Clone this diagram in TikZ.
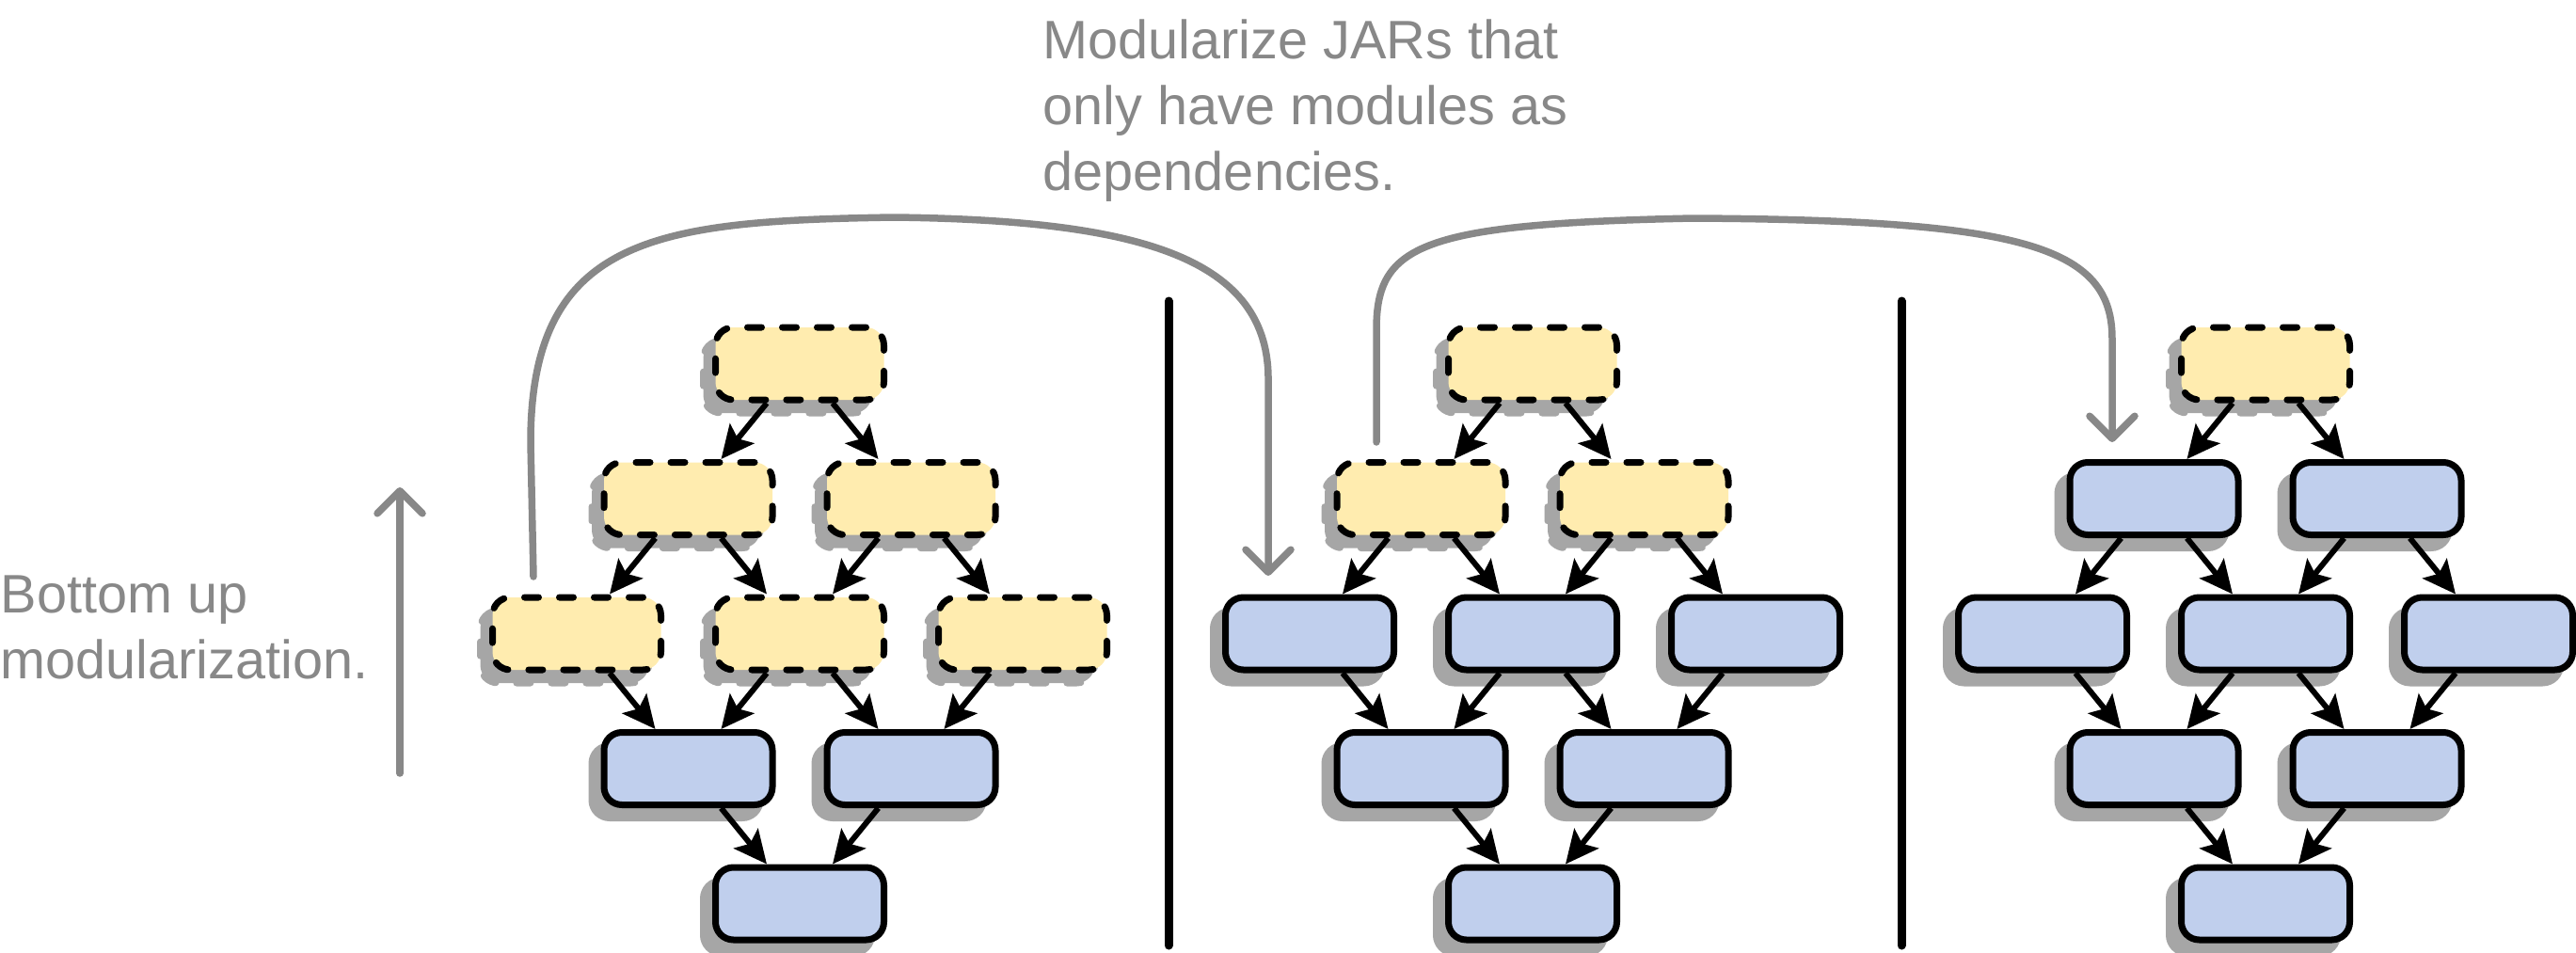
\documentclass[tikz,border=0pt]{standalone}
\usepackage{fontspec}
\setmainfont{Liberation Sans}
\usetikzlibrary{positioning,arrows.meta,shadows}

\definecolor{jaryellow}{HTML}{FFECAF}
\definecolor{modblue}{HTML}{C0CFED}
\definecolor{shadowgray}{HTML}{A6A6A6}
\definecolor{notegray}{HTML}{888888}

\begin{document}
\begin{tikzpicture}[font=\fontsize{16.4}{19.9}\selectfont,node distance=5.95mm,
  >={Stealth[length=3.5mm,width=3.3mm,inset=0.7mm]},
  box/.style={rectangle,rounded corners=1.9mm,minimum width=17.9mm,minimum height=7.7mm,inner sep=0pt,line width=0.7mm,draw=black,
    drop shadow={shadow xshift=-1.3mm,shadow yshift=-1.4mm,fill=shadowgray,draw=shadowgray,opacity=1}},
  jar/.style={box,fill=jaryellow,dash pattern=on 1.5mm off 2.2mm,line cap=round},
  mod/.style={box,fill=modblue},
  dep/.style={->,line width=0.6mm,black},
  flow/.style={draw=notegray,line width=0.75mm,line cap=round,-{Straight Barb[round,length=2.4mm,width=4.8mm]}},
  sep/.style={line width=0.9mm,line cap=round},
  note/.style={text=notegray,align=left,inner sep=0pt}]
\useasboundingbox (0,0) rectangle (27.38,-10.13);

% step 1: only the two bottom levels are modules
\node[jar](a1) at (8.50,-3.865){};
\node[jar,below=of a1,xshift=-11.85mm](a2l){};
\node[jar,below=of a1,xshift=11.85mm](a2r){};
\node[jar,below=of a2l,xshift=-11.85mm](a3l){};
\node[jar,below=of a2l,xshift=11.85mm](a3m){};
\node[jar,below=of a2r,xshift=11.85mm](a3r){};
\node[mod,below=of a3l,xshift=11.85mm](a4l){};
\node[mod,below=of a3r,xshift=-11.85mm](a4r){};
\node[mod,below=of a4l,xshift=11.85mm](a5){};

% step 2
\node[jar](b1) at (16.29,-3.865){};
\node[jar,below=of b1,xshift=-11.85mm](b2l){};
\node[jar,below=of b1,xshift=11.85mm](b2r){};
\node[mod,below=of b2l,xshift=-11.85mm](b3l){};
\node[mod,below=of b2l,xshift=11.85mm](b3m){};
\node[mod,below=of b2r,xshift=11.85mm](b3r){};
\node[mod,below=of b3l,xshift=11.85mm](b4l){};
\node[mod,below=of b3r,xshift=-11.85mm](b4r){};
\node[mod,below=of b4l,xshift=11.85mm](b5){};

% step 3
\node[jar](c1) at (24.08,-3.865){};
\node[mod,below=of c1,xshift=-11.85mm](c2l){};
\node[mod,below=of c1,xshift=11.85mm](c2r){};
\node[mod,below=of c2l,xshift=-11.85mm](c3l){};
\node[mod,below=of c2l,xshift=11.85mm](c3m){};
\node[mod,below=of c2r,xshift=11.85mm](c3r){};
\node[mod,below=of c3l,xshift=11.85mm](c4l){};
\node[mod,below=of c3r,xshift=-11.85mm](c4r){};
\node[mod,below=of c4l,xshift=11.85mm](c5){};

\draw[dep]([xshift=-3.5mm]a1.south)--([xshift=3.5mm]a2l.north);\draw[dep]([xshift=3.5mm]a1.south)--([xshift=-3.5mm]a2r.north);
\draw[dep]([xshift=-3.5mm]a2l.south)--([xshift=3.5mm]a3l.north);\draw[dep]([xshift=3.5mm]a2l.south)--([xshift=-3.5mm]a3m.north);
\draw[dep]([xshift=-3.5mm]a2r.south)--([xshift=3.5mm]a3m.north);\draw[dep]([xshift=3.5mm]a2r.south)--([xshift=-3.5mm]a3r.north);
\draw[dep]([xshift=3.5mm]a3l.south)--([xshift=-3.5mm]a4l.north);\draw[dep]([xshift=-3.5mm]a3m.south)--([xshift=3.5mm]a4l.north);
\draw[dep]([xshift=3.5mm]a3m.south)--([xshift=-3.5mm]a4r.north);\draw[dep]([xshift=-3.5mm]a3r.south)--([xshift=3.5mm]a4r.north);
\draw[dep]([xshift=3.5mm]a4l.south)--([xshift=-3.5mm]a5.north);\draw[dep]([xshift=-3.5mm]a4r.south)--([xshift=3.5mm]a5.north);

\draw[dep]([xshift=-3.5mm]b1.south)--([xshift=3.5mm]b2l.north);\draw[dep]([xshift=3.5mm]b1.south)--([xshift=-3.5mm]b2r.north);
\draw[dep]([xshift=-3.5mm]b2l.south)--([xshift=3.5mm]b3l.north);\draw[dep]([xshift=3.5mm]b2l.south)--([xshift=-3.5mm]b3m.north);
\draw[dep]([xshift=-3.5mm]b2r.south)--([xshift=3.5mm]b3m.north);\draw[dep]([xshift=3.5mm]b2r.south)--([xshift=-3.5mm]b3r.north);
\draw[dep]([xshift=3.5mm]b3l.south)--([xshift=-3.5mm]b4l.north);\draw[dep]([xshift=-3.5mm]b3m.south)--([xshift=3.5mm]b4l.north);
\draw[dep]([xshift=3.5mm]b3m.south)--([xshift=-3.5mm]b4r.north);\draw[dep]([xshift=-3.5mm]b3r.south)--([xshift=3.5mm]b4r.north);
\draw[dep]([xshift=3.5mm]b4l.south)--([xshift=-3.5mm]b5.north);\draw[dep]([xshift=-3.5mm]b4r.south)--([xshift=3.5mm]b5.north);

\draw[dep]([xshift=-3.5mm]c1.south)--([xshift=3.5mm]c2l.north);\draw[dep]([xshift=3.5mm]c1.south)--([xshift=-3.5mm]c2r.north);
\draw[dep]([xshift=-3.5mm]c2l.south)--([xshift=3.5mm]c3l.north);\draw[dep]([xshift=3.5mm]c2l.south)--([xshift=-3.5mm]c3m.north);
\draw[dep]([xshift=-3.5mm]c2r.south)--([xshift=3.5mm]c3m.north);\draw[dep]([xshift=3.5mm]c2r.south)--([xshift=-3.5mm]c3r.north);
\draw[dep]([xshift=3.5mm]c3l.south)--([xshift=-3.5mm]c4l.north);\draw[dep]([xshift=-3.5mm]c3m.south)--([xshift=3.5mm]c4l.north);
\draw[dep]([xshift=3.5mm]c3m.south)--([xshift=-3.5mm]c4r.north);\draw[dep]([xshift=-3.5mm]c3r.south)--([xshift=3.5mm]c4r.north);
\draw[dep]([xshift=3.5mm]c4l.south)--([xshift=-3.5mm]c5.north);\draw[dep]([xshift=-3.5mm]c4r.south)--([xshift=3.5mm]c5.north);

% separators
\coordinate(s1t) at (12.42,-3.20);\coordinate(s1b) at (12.42,-10.05);
\coordinate(s2t) at (20.21,-3.20);\coordinate(s2b) at (20.21,-10.05);
\draw[sep](s1t)--(s1b);\draw[sep](s2t)--(s2b);

% notes and flow arrows
\node[note,anchor=base west](bottomup) at (0,-7.21){Bottom up\\modularization.};
\node[note,anchor=base west](onlymods) at (11.08,-2.02){Modularize JARs that\\only have modules as\\dependencies.};
\coordinate(upfrom) at (4.25,-8.22);\coordinate(upto) at (4.25,-5.18);
\draw[flow](upfrom)--(upto);
\coordinate(f1from) at (5.67,-6.13);\coordinate(f1to) at (13.48,-6.12);
\draw[flow](f1from)--(5.64,-4.70) .. controls (5.64,-2.50) and (7.00,-2.35) .. (9.50,-2.31)
  .. controls (12.00,-2.34) and (13.46,-2.70) .. (13.48,-4.00)--(f1to);
\coordinate(f2from) at (14.63,-4.70);\coordinate(f2to) at (22.45,-4.70);
\draw[flow](f2from)--(14.63,-3.50) .. controls (14.63,-2.60) and (15.10,-2.38) .. (18.00,-2.32)
  .. controls (21.50,-2.34) and (22.45,-2.62) .. (22.45,-3.60)--(f2to);
\end{tikzpicture}
\end{document}
